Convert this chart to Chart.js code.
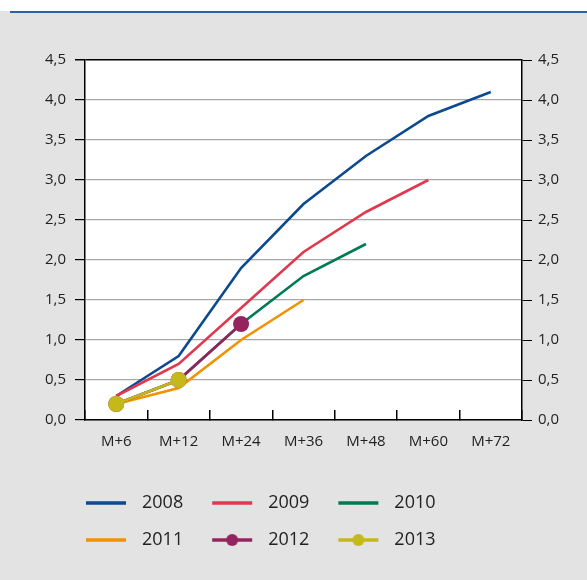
<!DOCTYPE html>
<html>
<head>
<meta charset="utf-8">
<script src="https://cdn.jsdelivr.net/npm/chart.js@4.4.1/dist/chart.umd.min.js"></script>
<style>
  html, body { margin: 0; padding: 0; }
  body { width: 587px; height: 580px; background: #e3e3e3; position: relative; overflow: hidden; }
  .top-strip { position: absolute; left: 0; top: 0; width: 587px; height: 11px; background: #fff; }
  .top-rule { position: absolute; left: 10px; top: 11px; width: 577px; height: 2px; background: #2a62a2; }
  #wrap { position: absolute; left: 0; top: 0; width: 587px; height: 580px; }
</style>
</head>
<body>
<div class="top-strip"></div>
<div class="top-rule"></div>
<div id="wrap"><canvas id="chart"></canvas></div>
<script>
// months after start
const categories = ["M+6", "M+12", "M+24", "M+36", "M+48", "M+60", "M+72"];
const years = ["2008", "2009", "2010", "2011", "2012", "2013"];

const s2008 = [0.3, 0.8, 1.9, 2.7, 3.3, 3.8, 4.1];
const s2009 = [0.3, 0.7, 1.4, 2.1, 2.6, 3.0];
const s2010 = [0.2, 0.5, 1.2, 1.8, 2.2];
const s2011 = [0.2, 0.4, 1.0, 1.5];
const s2012 = [0.2, 0.5, 1.2];
const s2013 = [0.2, 0.5];

const yMin = 0, yMax = 4.5, yStep = 0.5;

const series = [s2008, s2009, s2010, s2011, s2012, s2013];
const colors = ["#0b4a8f", "#e0394f", "#007a55", "#f39200", "#93245e", "#c5b91a"];
const withMarkers = [false, false, false, false, true, true];

const FONT = "'Open Sans', 'DejaVu Sans', sans-serif";
const TEXT = "#222";

// little line (+dot) icons for the legend
function legendIcon(color, marker) {
    const c = document.createElement("canvas");
    c.width = 57;
    c.height = 16;
    const g = c.getContext("2d");
    g.strokeStyle = color;
    g.lineWidth = 3.5;
    g.beginPath();
    g.moveTo(10, 8);
    g.lineTo(50, 8);
    g.stroke();
    if (marker) {
        g.fillStyle = color;
        g.beginPath();
        g.arc(30, 8, 6, 0, Math.PI * 2);
        g.fill();
    }
    return c;
}
const icons = colors.map((c, i) => legendIcon(c, withMarkers[i]));

// white plot background
const plotBg = {
    id: "plotBg",
    beforeDraw(chart) {
        const { ctx, chartArea: a } = chart;
        ctx.save();
        ctx.fillStyle = "#fff";
        ctx.fillRect(a.left, a.top, a.right - a.left, a.bottom - a.top);
        ctx.restore();
    }
};

// legend rows start a bit left of the plot area, under the axis labels
const legendShift = {
    id: "legendShift",
    afterLayout(chart) {
        chart.legend.left = 57;
    }
};

const datasets = years.map((y, i) => ({
    label: y,
    data: series[i],
    borderColor: colors[i],
    backgroundColor: colors[i],
    borderWidth: 2.6,
    tension: 0,
    fill: false,
    pointRadius: withMarkers[i] ? 8 : 0,
    pointHoverRadius: withMarkers[i] ? 8 : 0,
    pointBorderWidth: 0,
    order: years.length - 1 - i
}));

const fmt = (v) => Number(v).toFixed(1).replace(".", ",");

const yCommon = {
    min: yMin,
    max: yMax,
    border: { color: "#000", width: 1.5 },
    ticks: { stepSize: yStep, color: TEXT, font: { family: FONT, size: 15 }, padding: 6, callback: fmt }
};

new Chart(document.getElementById("chart"), {
    type: "line",
    data: { labels: categories, datasets },
    plugins: [plotBg, legendShift],
    options: {
        responsive: true,
        maintainAspectRatio: false,
        animation: false,
        events: [],
        layout: { padding: { left: 10, right: 20, top: 60, bottom: 21 } },
        scales: {
            x: {
                offset: true,
                border: { color: "#000", width: 1.5 },
                grid: { offset: true, drawOnChartArea: false, drawTicks: true, tickLength: -10, tickColor: "#000", lineWidth: 1.5 },
                ticks: { color: TEXT, font: { family: FONT, size: 15 }, padding: 23, maxRotation: 0 },
                afterFit: (s) => { s.height = 55; }
            },
            y: {
                ...yCommon,
                position: "left",
                ticks: { ...yCommon.ticks, padding: 9 },
                grid: {
                    color: (c) => (c.tick && c.tick.value === yMax ? "#000" : "#a8a8a8"),
                    lineWidth: (c) => (c.tick && c.tick.value === yMax ? 1.5 : 1.2),
                    tickColor: "#000",
                    tickLength: 10
                },
                afterFit: (s) => { s.width = 75; }
            },
            y2: {
                ...yCommon,
                position: "right",
                grid: { drawOnChartArea: false, tickColor: "#000", tickLength: 10 },
                afterFit: (s) => { s.width = 45; }
            }
        },
        plugins: {
            tooltip: { enabled: false },
            legend: {
                position: "bottom",
                align: "start",
                fullSize: false,
                labels: {
                    usePointStyle: true,
                    pointStyleWidth: 57,
                    boxHeight: 16,
                    padding: 19,
                    color: TEXT,
                    font: { family: FONT, size: 18 },
                    generateLabels(chart) {
                        return Chart.defaults.plugins.legend.labels.generateLabels(chart)
                            .sort((a, b) => a.datasetIndex - b.datasetIndex)
                            .map((it) => ({ ...it, pointStyle: icons[it.datasetIndex] }));
                    }
                }
            }
        }
    }
});
</script>
</body>
</html>
